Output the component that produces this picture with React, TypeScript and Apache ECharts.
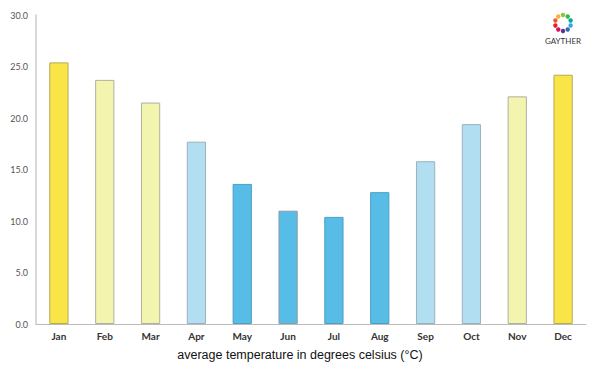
import React, { useEffect, useRef } from "react";
import * as echarts from "echarts";

const months = ["Jan", "Feb", "Mar", "Apr", "May", "Jun", "Jul", "Aug", "Sep", "Oct", "Nov", "Dec"];
const temps = [25.4, 23.7, 21.5, 17.7, 13.6, 11.0, 10.4, 12.8, 15.8, 19.4, 22.1, 24.2];
const barColors = ["#f9e547", "#f3f4ad", "#f3f4ad", "#b1dff1", "#58bde6", "#58bde6", "#58bde6", "#58bde6", "#b1dff1", "#b1dff1", "#f3f4ad", "#f9e547"];
const borderColors = ["#b5ab55", "#b0b0a0", "#b0b0a0", "#9ab0ba", "#4b9fc4", "#8a9ea8", "#4b9fc4", "#4b9fc4", "#9ab0ba", "#9ab0ba", "#b0b0a0", "#b5ab55"];
const yTicks = [0, 5, 10, 15, 20, 25, 30];
const logoColors = ["#8cc63f", "#3ab54a", "#00a99d", "#29abe2", "#2e6db4", "#662d91", "#d4145a", "#ed1c24", "#f15a24", "#fbb03b"];
const titleText = "average temperature in degrees celsius (°C)";

export default function App() {
  const ref = useRef<HTMLDivElement>(null);
  useEffect(() => {
    if (!ref.current) return;
    const chart = echarts.init(ref.current, null, { renderer: "svg" });
    const cx = 563, cy = 23, r = 8;
    const logoDots = logoColors.map((c, i) => {
      const a = (i / logoColors.length) * Math.PI * 2 - Math.PI / 2;
      return {
        type: "circle",
        shape: { cx: cx + r * Math.cos(a), cy: cy + r * Math.sin(a), r: 2.2 },
        style: { fill: c },
      };
    });
    chart.setOption({
      animation: false,
      backgroundColor: "#ffffff",
      grid: { left: 36, right: 14, top: 15, bottom: 51 },
      xAxis: {
        type: "category",
        data: months,
        axisLine: { lineStyle: { color: "#bbbbbb", width: 1 } },
        axisTick: { show: false },
        axisLabel: { color: "#333", fontSize: 10, fontWeight: "bold", fontFamily: "Lato", margin: 7 },
      },
      yAxis: {
        type: "value",
        min: 0,
        max: 30,
        interval: 5,
        axisLine: { show: true, lineStyle: { color: "#cccccc", width: 1.5 } },
        axisTick: { show: false },
        splitLine: { show: false },
        axisLabel: {
          color: "#555",
          fontSize: 9,
          fontFamily: "Lato",
          margin: 8,
          formatter: (v: number) => (yTicks.includes(v) ? v.toFixed(1) : ""),
        },
      },
      series: [
        {
          type: "bar",
          barWidth: "42%",
          data: temps.map((v, i) => ({
            value: v,
            itemStyle: { color: barColors[i], borderColor: borderColors[i], borderWidth: 1 },
          })),
        },
      ],
      graphic: [
        ...logoDots,
        {
          type: "text",
          x: cx,
          y: 37,
          style: { text: "GAYTHER", fontSize: 8, fontFamily: "Lato", fill: "#333", textAlign: "center" },
        },
        {
          type: "text",
          x: 300,
          y: 355,
          style: {
            text: titleText,
            fontSize: 12.5,
            fontFamily: "Liberation Sans",
            fill: "#111",
            textAlign: "center",
            textVerticalAlign: "middle",
          },
        },
      ],
    });
    return () => chart.dispose();
  }, []);
  return <div ref={ref} style={{ width: 600, height: 375, position: "absolute", left: 0, top: 0 }} />;
}
